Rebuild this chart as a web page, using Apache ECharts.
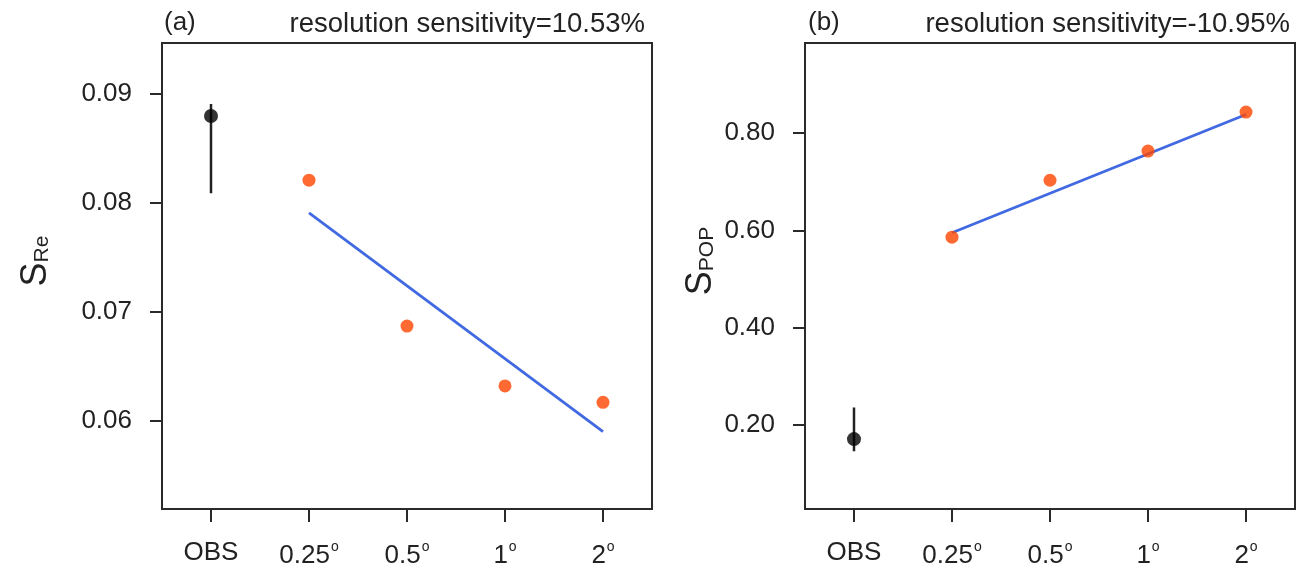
<!DOCTYPE html>
<html>
<head>
<meta charset="utf-8">
<script src="https://cdn.jsdelivr.net/npm/echarts@6/dist/echarts.min.js"></script>
<style>
  html, body { margin: 0; padding: 0; background: #fff; }
  #chart { width: 1298px; height: 571px; }
</style>
</head>
<body>
<div id="chart"></div>
<script>
var categories = ['OBS', '0.25', '0.5', '1', '2'];

// panel (a): S_Re
var reObs = 0.0880;
var reObsErr = [0.0809, 0.0891];
var reModel = [0.0821, 0.0687, 0.0632, 0.0617];
var reFit = [0.0791, 0.0590];
var reTicks = [0.06, 0.07, 0.08, 0.09];

// panel (b): S_POP
var popObs = 0.171;
var popObsErr = [0.146, 0.236];
var popModel = [0.586, 0.703, 0.763, 0.843];
var popFit = [0.595, 0.838];
var popTicks = [0.20, 0.40, 0.60, 0.80];

var font = 'Liberation Sans';
var textColor = '#222';
var frame = '#2a2a2a';

function xLabel(v) {
  if (v === 'OBS') return v;
  return v + '{o|o}';
}

function makeX(idx) {
  return {
    type: 'category', gridIndex: idx, data: categories, boundaryGap: true,
    axisLine: { show: true, lineStyle: { color: frame, width: 2 } },
    axisTick: { show: true, alignWithLabel: true, interval: 0, length: 13, lineStyle: { color: frame, width: 2 } },
    axisLabel: {
      interval: 0, formatter: xLabel, margin: 31, color: textColor, fontFamily: font, fontSize: 26,
      rich: { o: { fontSize: 14, fontFamily: font, color: textColor, padding: [0, 0, 18, 1] } }
    },
    splitLine: { show: false }
  };
}

function makeY(idx, min, max, ticks, digits, name, sub, gap) {
  return {
    type: 'value', gridIndex: idx, min: min, max: max,
    name: '{s|' + name + '}{b|' + sub + '}', nameLocation: 'middle', nameRotate: 90, nameGap: gap,
    nameTextStyle: {
      padding: [0, 0, 0, 30],
      rich: {
        s: { fontSize: 36, fontFamily: font, color: textColor },
        b: { fontSize: 21, fontFamily: font, color: textColor, padding: [0, 0, -12, 0] }
      }
    },
    axisLine: { show: true, lineStyle: { color: frame, width: 2 } },
    axisTick: { show: true, length: 12, customValues: ticks, lineStyle: { color: frame, width: 2 } },
    axisLabel: {
      customValues: ticks, margin: 30, color: textColor, fontFamily: font, fontSize: 26,
      formatter: function (v) { return v.toFixed(digits); }
    },
    splitLine: { show: false }
  };
}

function errBar(idx, lo, hi) {
  return {
    type: 'custom', xAxisIndex: idx, yAxisIndex: idx,
    data: [[0, lo, hi]],
    renderItem: function (params, api) {
      var a = api.coord([api.value(0), api.value(1)]);
      var b = api.coord([api.value(0), api.value(2)]);
      return { type: 'line', shape: { x1: a[0], y1: a[1], x2: b[0], y2: b[1] },
               style: { stroke: '#222', lineWidth: 2.5 } };
    },
    z: 2
  };
}

function panelSeries(idx, obs, err, model, fit) {
  var pts = model.map(function (v, i) { return [i + 1, v]; });
  return [
    errBar(idx, err[0], err[1]),
    { type: 'scatter', xAxisIndex: idx, yAxisIndex: idx, data: [[0, obs]],
      symbolSize: 14, itemStyle: { color: '#000' }, z: 3 },
    { type: 'line', xAxisIndex: idx, yAxisIndex: idx, data: [[1, fit[0]], [4, fit[1]]],
      symbol: 'none', lineStyle: { color: '#4169E1', width: 2.8 }, z: 2 },
    { type: 'scatter', xAxisIndex: idx, yAxisIndex: idx, data: pts,
      symbolSize: 13, itemStyle: { color: '#FF4500' }, z: 4 }
  ];
}

var chart = echarts.init(document.getElementById('chart'));
chart.setOption({
  animation: false,
  backgroundColor: '#fff',
  title: [
    { text: '(a)', left: 159, top: 5, textStyle: { fontFamily: font, fontSize: 26, fontWeight: 'normal', color: textColor } },
    { text: 'resolution sensitivity=10.53%', right: 648, top: 5, textStyle: { fontFamily: font, fontSize: 27.5, fontWeight: 'normal', color: textColor } },
    { text: '(b)', left: 803, top: 5, textStyle: { fontFamily: font, fontSize: 26, fontWeight: 'normal', color: textColor } },
    { text: 'resolution sensitivity=-10.95%', right: 3, top: 5, textStyle: { fontFamily: font, fontSize: 27.5, fontWeight: 'normal', color: textColor } }
  ],
  grid: [
    { left: 162, right: 646, top: 43, bottom: 62, show: true, borderColor: frame, borderWidth: 2 },
    { left: 805, right: 3, top: 43, bottom: 62, show: true, borderColor: frame, borderWidth: 2 }
  ],
  xAxis: [makeX(0), makeX(1)],
  yAxis: [
    makeY(0, 0.0519, 0.0947, reTicks, 2, 'S', 'Re', 108),
    makeY(1, 0.0274, 0.985, popTicks, 2, 'S', 'POP', 86)
  ],
  series: panelSeries(0, reObs, reObsErr, reModel, reFit)
    .concat(panelSeries(1, popObs, popObsErr, popModel, popFit))
});
</script>
</body>
</html>
